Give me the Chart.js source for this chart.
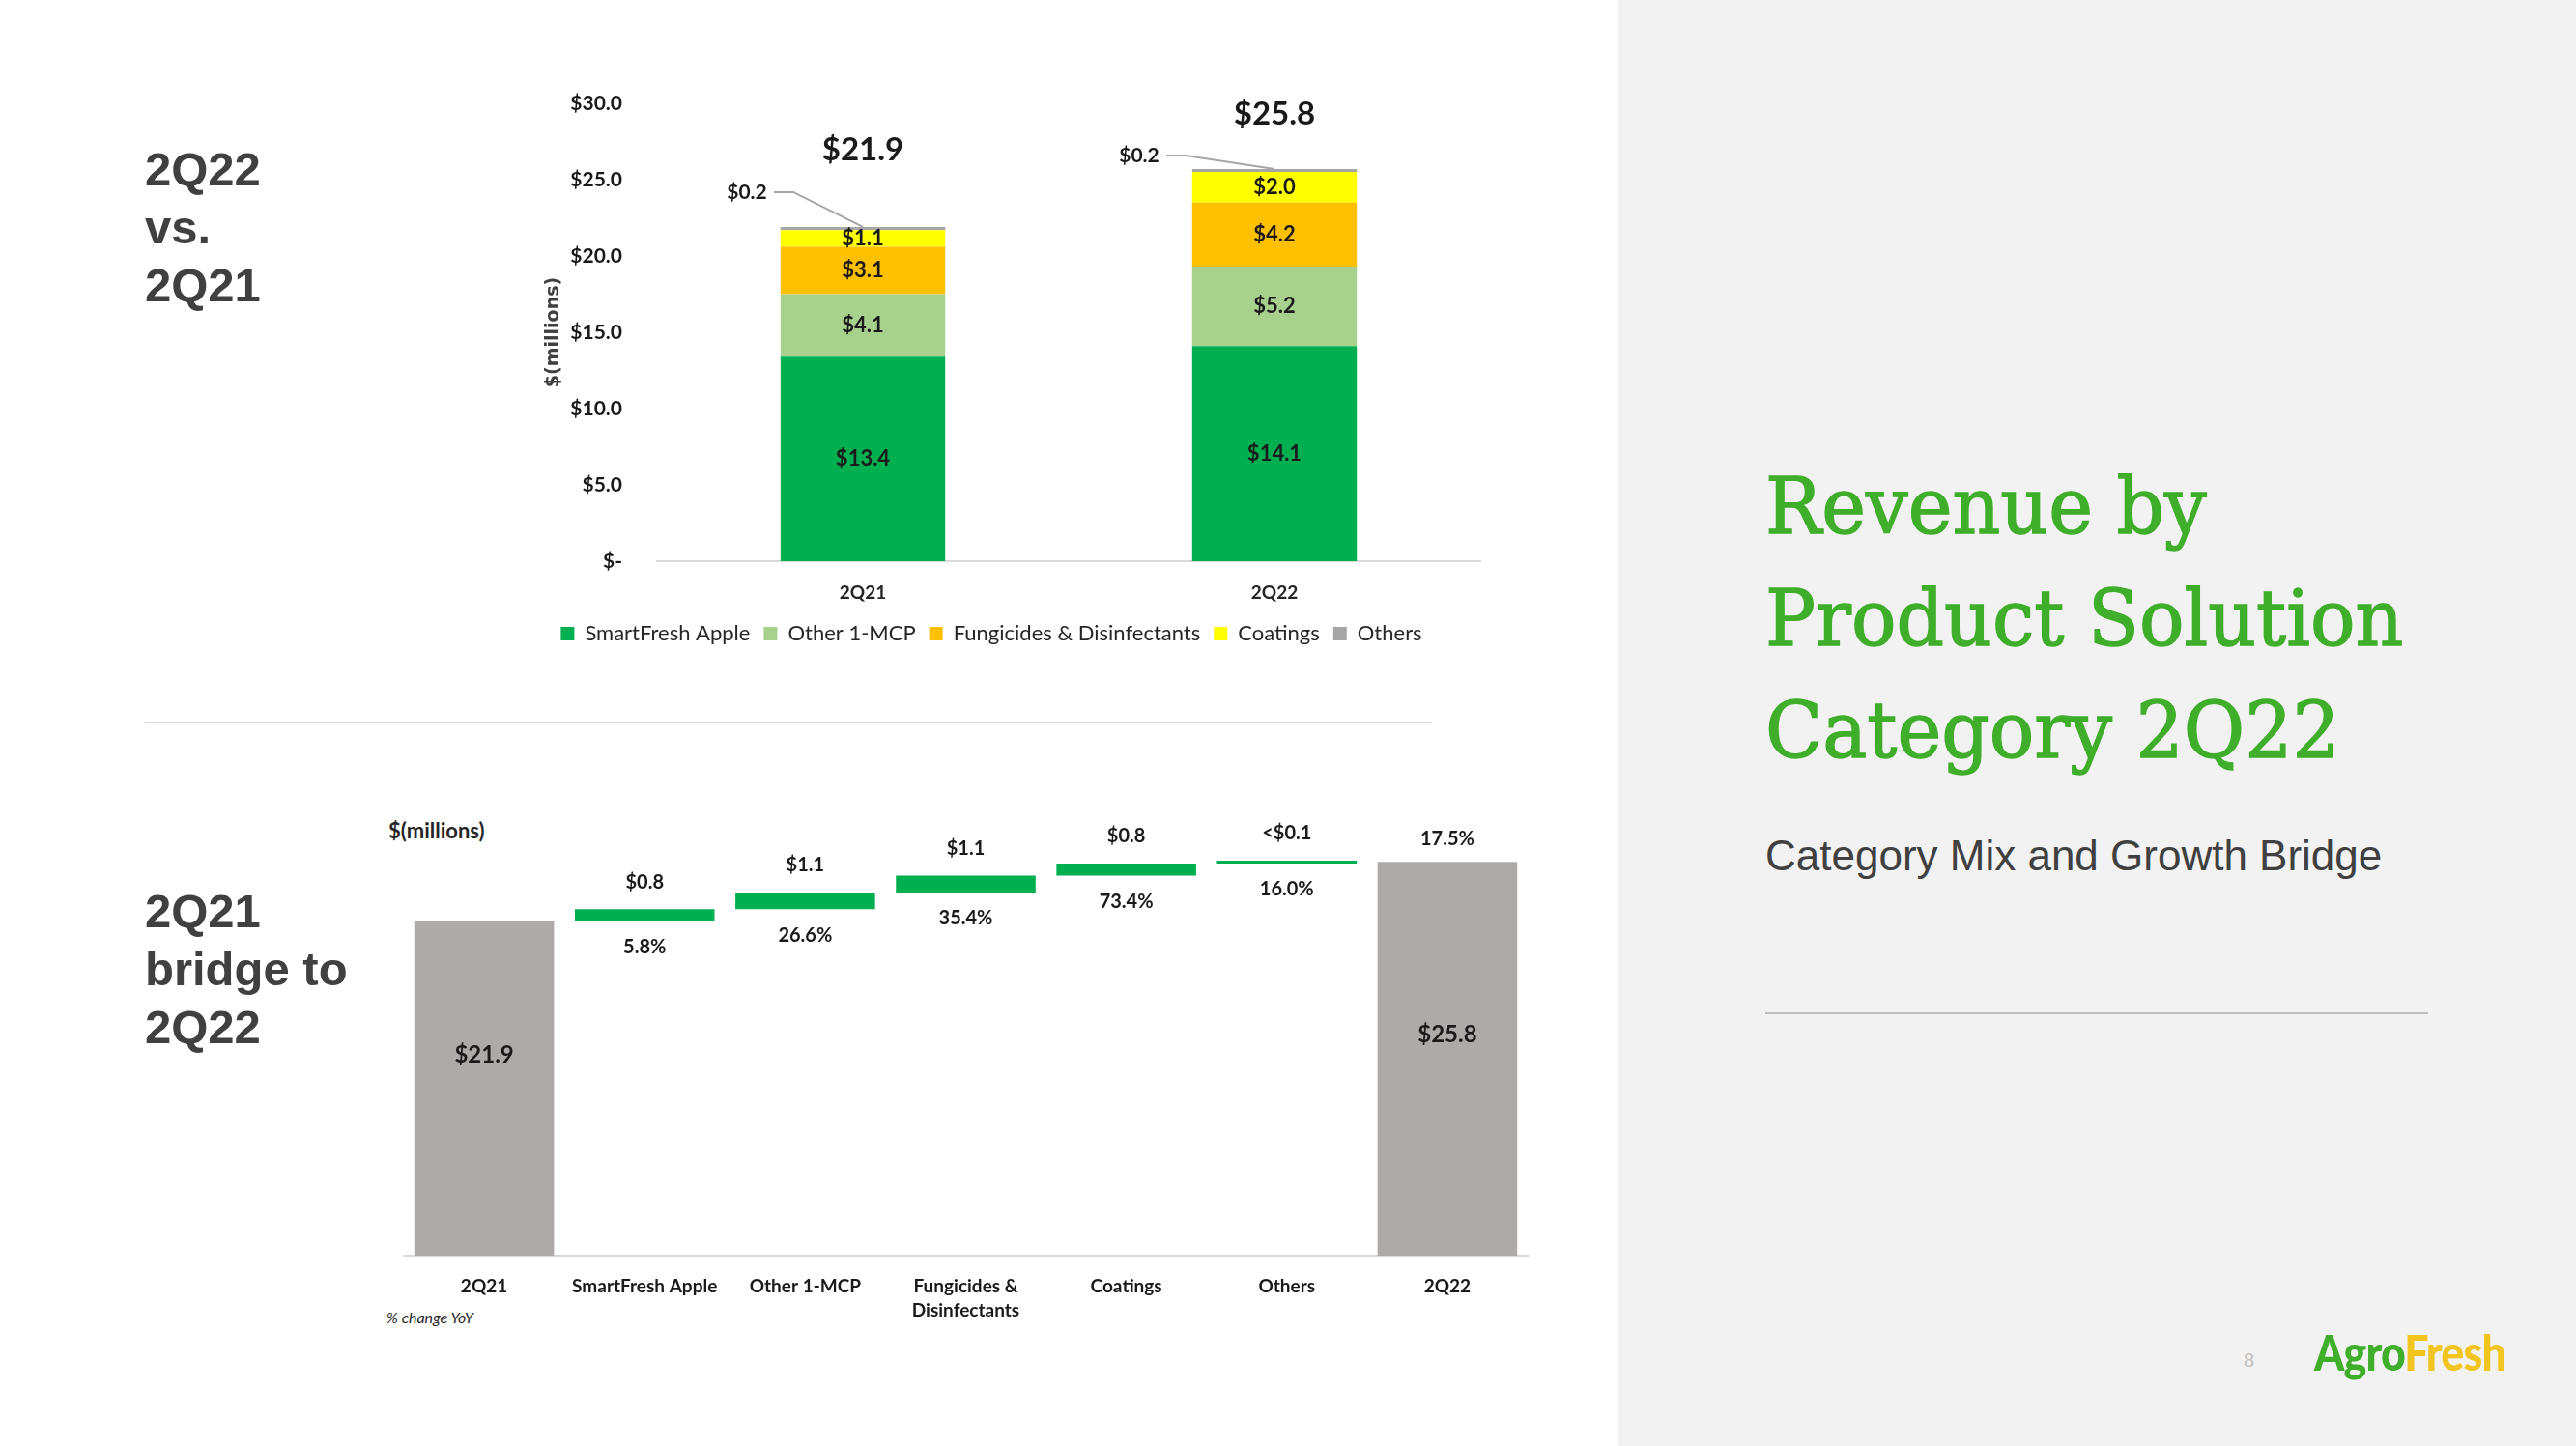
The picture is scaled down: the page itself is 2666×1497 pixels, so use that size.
<!DOCTYPE html>
<html>
<head>
<meta charset="utf-8">
<script src="https://cdn.jsdelivr.net/npm/chart.js"></script>
<style>
  body { margin: 0; width: 2666px; height: 1497px; position: relative; overflow: hidden; background: #fff; font-family: "Liberation Sans", Arial, sans-serif; }
  .panel { position: absolute; left: 1675px; top: 0; width: 991px; height: 1497px; background: #f2f2f2; }
  .head { position: absolute; left: 150px; font-weight: bold; font-size: 49px; line-height: 60px; color: #404040; }
  .rule { position: absolute; height: 2px; background: #d9d9d9; }
  .title { position: absolute; left: 1827px; top: 466px; font-family: "DejaVu Serif", serif; font-size: 81px; line-height: 116px; color: #3fae2a; -webkit-text-stroke: 1.4px #3fae2a; transform: scaleX(0.955); transform-origin: 0 0; white-space: nowrap; }
  .sub { position: absolute; left: 1827px; top: 861px; font-size: 44px; color: #404040; }
  .pg { position: absolute; left: 2322px; top: 1397px; font-size: 20px; color: #bfbfbf; }
  .logo { position: absolute; left: 2395px; top: 1368px; font-family: Lato, sans-serif; font-weight: 900; font-size: 52px; letter-spacing: -1px; transform: scaleX(0.86); transform-origin: 0 0; white-space: nowrap; }
  .note { position: absolute; font-family: Lato, sans-serif; color: #262626; }
  canvas { position: absolute; }
</style>
</head>
<body>
<div class="panel"></div>

<div class="head" style="top:145px">2Q22<br>vs.<br>2Q21</div>
<div class="head" style="top:913px">2Q21<br>bridge to<br>2Q22</div>
<div class="rule" style="left:150px; top:747px; width:1332px;"></div>

<div class="title">Revenue by<br>Product Solution<br>Category 2Q22</div>
<div class="sub">Category Mix and Growth Bridge</div>
<div class="rule" style="left:1827px; top:1048px; width:686px; background:#bfbfbf;"></div>
<div class="pg">8</div>
<div class="logo"><span style="color:#3fae2a">Agro</span><span style="color:#f2c41e">Fresh</span></div>

<div class="note" style="left:402px; top:846px; font-size:22px; font-weight:bold;">$(millions)</div>
<div class="note" style="left:400px; top:1354px; font-size:16px; font-style:italic;">% change YoY</div>

<canvas id="mixChart" width="1040" height="617" style="left:520px; top:60px;"></canvas>
<canvas id="bridgeChart" width="1200" height="590" style="left:400px; top:820px;"></canvas>

<script>
// --- DATA ---
const quarters = ['2Q21', '2Q22'];
const seriesNames = ['SmartFresh Apple', 'Other 1-MCP', 'Fungicides & Disinfectants', 'Coatings', 'Others'];
const smartFresh = [13.4, 14.1];
const other1Mcp = [4.1, 5.2];
const fungicides = [3.1, 4.2];
const coatings = [1.1, 2.0];
const others = [0.2, 0.2];
const quarterTotals = [21.9, 25.8];

const bridgeLabels = ['2Q21', 'SmartFresh Apple', 'Other 1-MCP', ['Fungicides &', 'Disinfectants'], 'Coatings', 'Others', '2Q22'];
const bridgeStart = 21.9;
const bridgeEnd = 25.8;
const bridgeSteps = [0.8, 1.1, 1.1, 0.8, 0.05];
const stepText = ['$0.8', '$1.1', '$1.1', '$0.8', '<$0.1'];
const stepPct = ['5.8%', '26.6%', '35.4%', '73.4%', '16.0%'];
const endPct = '17.5%';

const seriesColors = ['#00b050', '#a9d18e', '#ffc000', '#ffff00', '#a6a6a6'];
const chartFont = 'Lato, "Liberation Sans", sans-serif';
const money = v => '$' + v.toFixed(1);

// --- TOP: stacked mix chart ---
const mixLabels = {
    id: 'mixLabels',
    afterDatasetsDraw(chart) {
        const { ctx, scales: { y } } = chart;
        ctx.save();
        ctx.textAlign = 'center';
        ctx.textBaseline = 'middle';
        ctx.fillStyle = '#1a1a1a';

        // segment values (all but Others)
        ctx.font = 'bold 22px ' + chartFont;
        for (let d = 0; d < 4; d++) {
            chart.getDatasetMeta(d).data.forEach((bar, i) => {
                const v = chart.data.datasets[d].data[i];
                ctx.fillText(money(v), bar.x, (bar.y + bar.base) / 2);
            });
        }

        // totals + Others call-outs with leader lines
        const lift = [80, 55];
        const callout = [{ dx: -120, dy: -36 }, { dx: -140, dy: -14 }];
        const top = chart.getDatasetMeta(4).data;
        top.forEach((bar, i) => {
            const ty = y.getPixelForValue(quarterTotals[i]);
            ctx.font = 'bold 33px ' + chartFont;
            ctx.fillText(money(quarterTotals[i]), bar.x, ty - lift[i]);

            const lx = bar.x + callout[i].dx;
            const ly = bar.y + callout[i].dy;
            ctx.font = 'bold 21px ' + chartFont;
            ctx.fillText(money(others[i]), lx, ly);
            ctx.strokeStyle = '#a6a6a6';
            ctx.lineWidth = 2;
            ctx.beginPath();
            ctx.moveTo(lx + 28, ly);
            ctx.lineTo(lx + 48, ly);
            ctx.lineTo(bar.x, bar.y);
            ctx.stroke();
        });

        // y axis title
        ctx.translate(chart.chartArea.left - 107, (chart.chartArea.top + chart.chartArea.bottom) / 2);
        ctx.rotate(-Math.PI / 2);
        ctx.font = 'bold 19px "DejaVu Sans", sans-serif';
        ctx.fillStyle = '#404040';
        ctx.fillText('$(millions)', 0, 0);
        ctx.restore();
    }
};

const mixSeries = [smartFresh, other1Mcp, fungicides, coatings, others];

new Chart(document.getElementById('mixChart').getContext('2d'), {
    type: 'bar',
    data: {
        labels: quarters,
        datasets: mixSeries.map((vals, i) => ({
            label: seriesNames[i],
            data: vals,
            backgroundColor: seriesColors[i],
            stack: 'mix',
            barPercentage: 0.4,
            categoryPercentage: 1
        }))
    },
    options: {
        responsive: false,
        animation: false,
        layout: { padding: { left: 0, top: 47, right: 28, bottom: 0 } },
        plugins: {
            tooltip: { enabled: false },
            legend: {
                position: 'bottom',
                labels: {
                    boxWidth: 14, boxHeight: 14, padding: 14,
                    color: '#262626',
                    font: { family: chartFont, size: 22 }
                }
            }
        },
        scales: {
            x: {
                stacked: true,
                grid: { display: false },
                border: { color: '#d9d9d9', width: 2 },
                ticks: { color: '#262626', padding: 13, font: { family: chartFont, size: 19, weight: 'bold' } },
                afterFit(s) { s.height = 50; }
            },
            y: {
                stacked: true,
                min: 0, max: 30,
                grid: { display: false },
                border: { display: false },
                ticks: {
                    stepSize: 5,
                    padding: 28,
                    color: '#1a1a1a',
                    font: { family: chartFont, size: 21, weight: 'bold' },
                    callback: v => v === 0 ? '$-' : money(v)
                },
                afterFit(s) { s.width = 160; }
            }
        }
    },
    plugins: [mixLabels]
});

// --- BOTTOM: bridge (waterfall) ---
const bridgeData = [[0, bridgeStart]];
let running = bridgeStart;
bridgeSteps.forEach(step => {
    bridgeData.push([running, running + step]);
    running += step;
});
bridgeData.push([0, bridgeEnd]);

const bridgeColors = bridgeData.map((_, i) => (i === 0 || i === bridgeData.length - 1) ? '#aeaaaa' : '#00b050');

const bridgeText = {
    id: 'bridgeText',
    afterDatasetsDraw(chart) {
        const { ctx } = chart;
        const bars = chart.getDatasetMeta(0).data;
        ctx.save();
        ctx.textAlign = 'center';
        ctx.textBaseline = 'middle';
        ctx.fillStyle = '#1a1a1a';
        const last = bars.length - 1;
        bars.forEach((bar, i) => {
            const topY = Math.min(bar.y, bar.base);
            const botY = Math.max(bar.y, bar.base);
            if (i === 0 || i === last) {
                ctx.font = 'bold 24px ' + chartFont;
                const lift = i === 0 ? 35 : 25;
                ctx.fillText(money(i === 0 ? bridgeStart : bridgeEnd), bar.x, (topY + botY) / 2 - lift);
                if (i === last) {
                    ctx.font = 'bold 20px ' + chartFont;
                    ctx.fillText(endPct, bar.x, topY - 24);
                }
            } else {
                ctx.font = 'bold 20px ' + chartFont;
                ctx.fillText(stepText[i - 1], bar.x, topY - 28);
                ctx.fillText(stepPct[i - 1], bar.x, botY + 27);
            }
        });
        ctx.restore();
    }
};

new Chart(document.getElementById('bridgeChart').getContext('2d'), {
    type: 'bar',
    data: {
        labels: bridgeLabels,
        datasets: [{
            data: bridgeData,
            backgroundColor: bridgeColors,
            barPercentage: 0.87,
            categoryPercentage: 1,
            minBarLength: 3,
            borderSkipped: false
        }]
    },
    options: {
        responsive: false,
        animation: false,
        layout: { padding: { left: 18, top: 6, right: 19, bottom: 0 } },
        plugins: { legend: { display: false }, tooltip: { enabled: false } },
        scales: {
            x: {
                grid: { display: false },
                border: { color: '#d9d9d9', width: 2 },
                ticks: {
                    color: '#1a1a1a', padding: 12, maxRotation: 0, minRotation: 0, autoSkip: false,
                    font: { family: chartFont, size: 19, weight: 'bold', lineHeight: 1.3 }
                },
                afterFit(s) { s.height = 110; }
            },
            y: { display: false, min: 0, max: 30 }
        }
    },
    plugins: [bridgeText]
});
</script>
</body>
</html>
